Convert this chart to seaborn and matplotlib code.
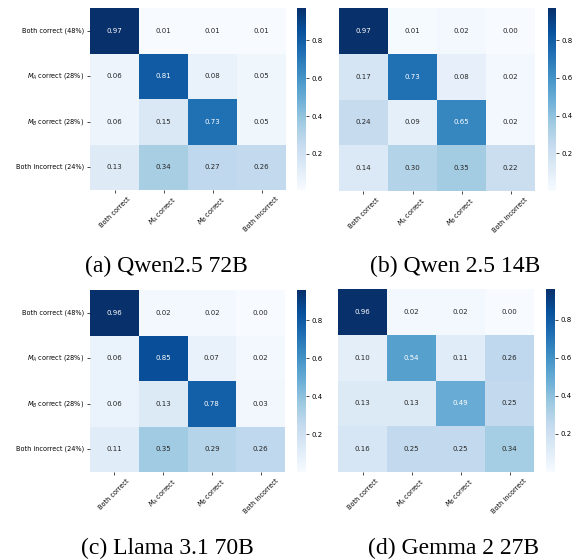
import numpy as np
import pandas as pd
import matplotlib
matplotlib.use("Agg")
import matplotlib.pyplot as plt
import seaborn as sns

# Row / column categories of the agreement matrices
row_labels = ["Both correct (48%)", "$M_A$ correct (28%)",
              "$M_B$ correct (28%)", "Both incorrect (24%)"]
col_labels = ["Both correct", "$M_A$ correct", "$M_B$ correct", "Both incorrect"]

# Normalised agreement matrices, one per model
qwen25_72b = [[0.97, 0.01, 0.01, 0.01],
              [0.06, 0.81, 0.08, 0.05],
              [0.06, 0.15, 0.73, 0.05],
              [0.13, 0.34, 0.27, 0.26]]
qwen25_14b = [[0.97, 0.01, 0.02, 0.00],
              [0.17, 0.73, 0.08, 0.02],
              [0.24, 0.09, 0.65, 0.02],
              [0.14, 0.30, 0.35, 0.22]]
llama31_70b = [[0.96, 0.02, 0.02, 0.00],
               [0.06, 0.85, 0.07, 0.02],
               [0.06, 0.13, 0.78, 0.03],
               [0.11, 0.35, 0.29, 0.26]]
gemma2_27b = [[0.96, 0.02, 0.02, 0.00],
              [0.10, 0.54, 0.11, 0.26],
              [0.13, 0.13, 0.49, 0.25],
              [0.16, 0.25, 0.25, 0.34]]

captions = ["(a) Qwen2.5 72B", "(b) Qwen 2.5 14B",
            "(c) Llama 3.1 70B", "(d) Gemma 2 27B"]
matrices = [qwen25_72b, qwen25_14b, llama31_70b, gemma2_27b]
cbar_ticks = [0.2, 0.4, 0.6, 0.8]

W, H = 575, 560
fig = plt.figure(figsize=(W / 100, H / 100), dpi=100)


def rect(x, y, w, h):
    return [x / W, (H - y - h) / H, w / W, h / H]


# pixel boxes: heatmap, colorbar, caption centre, show row labels
panels = [
    ((90, 8, 196, 182), (297, 8, 9, 182), (166, 266), True),
    ((339, 8, 196, 183), (548, 8, 8, 183), (455, 266), False),
    ((90, 290, 195, 182), (297, 290, 9, 182), (167, 548), True),
    ((338, 289, 196, 183), (546, 289, 9, 183), (453, 548), False),
]

for mat, cap, (hm, cb, cpos, show_rows) in zip(matrices, captions, panels):
    ax = fig.add_axes(rect(*hm))
    cax = fig.add_axes(rect(*cb))
    df = pd.DataFrame(mat, index=row_labels, columns=col_labels)
    sns.heatmap(df, ax=ax, cbar_ax=cax, cmap="Blues", annot=True, fmt=".2f",
                annot_kws={"fontsize": 5},
                cbar_kws={"ticks": cbar_ticks},
                yticklabels=row_labels if show_rows else False)
    ax.set_xticklabels(col_labels, rotation=45, fontsize=4.7)
    if show_rows:
        ax.set_yticklabels(row_labels, rotation=0, fontsize=4.7)
    ax.tick_params(length=2.5, width=0.5, pad=1.5)
    cax.tick_params(labelsize=5, length=2.5, width=0.5, pad=1.5)
    fig.text(cpos[0] / W, 1 - cpos[1] / H, cap, ha="center", va="center",
             fontsize=17, family="Liberation Serif")

fig.savefig("out.png", dpi=100)
